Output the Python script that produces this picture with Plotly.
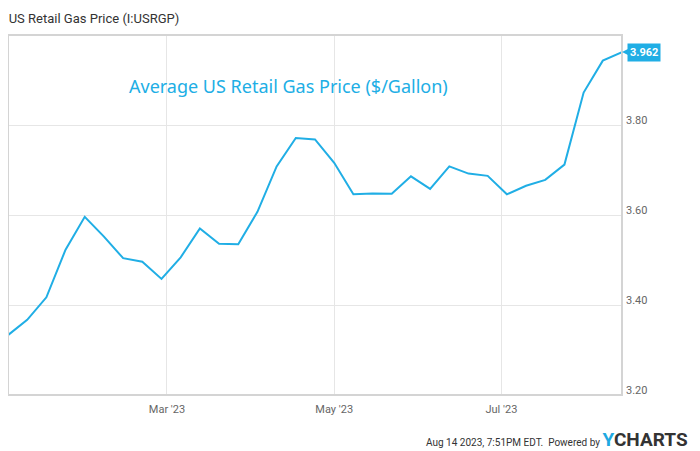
import plotly.graph_objects as go
import pandas as pd

# weekly readings, Jan 2 2023 .. Aug 14 2023 (Mondays)
week_start = "2023-01-02"
n_weeks = 33
prices = [3.333, 3.367, 3.417, 3.523, 3.596, 3.552, 3.504, 3.496, 3.458,
          3.506, 3.570, 3.536, 3.535, 3.607, 3.708, 3.771, 3.768, 3.716,
          3.646, 3.648, 3.647, 3.686, 3.658, 3.708, 3.692, 3.687, 3.646,
          3.665, 3.678, 3.712, 3.872, 3.943, 3.962]
tick_dates = ["2023-03-01", "2023-05-01", "2023-07-01"]
tick_text = ["Mar '23", "May '23", "Jul '23"]
y_ticks = [3.20, 3.40, 3.60, 3.80]

dates = pd.date_range(week_start, periods=n_weeks, freq="7D")

LINE = "#20aee5"
GRID = "#e6e6e6"
BORDER = "#d4d4d4"

# page body has an 8px margin, so the figure is 8px smaller each way
W, H = 692, 443
L, T, R, B = 0, 27, 78, 56
PW, PH = W - L - R, H - T - B

fig = go.Figure()
fig.add_trace(go.Scatter(x=dates, y=prices, mode="lines",
                         line=dict(color=LINE, width=2), hoverinfo="x+y"))

# last value tag: pointer + box
fig.add_annotation(x=dates[-1], y=prices[-1], text="",
                   showarrow=True, arrowhead=2, arrowsize=1, arrowwidth=3,
                   arrowcolor=LINE, ax=9, ay=0, standoff=0)
fig.add_annotation(x=dates[-1], y=prices[-1], text="<b>%.3f</b>" % prices[-1],
                   showarrow=False, xanchor="left", xshift=5,
                   bgcolor=LINE, borderpad=2,
                   font=dict(family="Roboto", size=11, color="white"))

fig.add_annotation(xref="paper", yref="paper", x=(288 - 8) / PW, y=(387 - 64) / PH,
                   text="Average US Retail Gas Price ($/Gallon)", showarrow=False,
                   font=dict(family="Noto Sans", size=18, color=LINE))

fig.add_annotation(xref="paper", yref="paper", x=(682 - L) / PW, y=(387 - 431) / PH,
                   xanchor="right", yanchor="middle", showarrow=False,
                   text="Aug 14 2023, 7:51PM EDT.  Powered by "
                        "<span style='font-size:19px'><b><span style='color:#1fa9e1'>Y</span>"
                        "CHARTS</b></span>",
                   font=dict(family="Roboto", size=10, color="#333333"))

# plot frame
fig.add_shape(type="rect", xref="paper", yref="paper", x0=0, x1=1, y0=0, y1=1,
              line=dict(color=BORDER, width=2))
# outer frame, right side only is within reach
fig.add_shape(type="line", xref="paper", yref="paper",
              x0=(690 - L) / PW, x1=(690 - L) / PW, y0=-B / PH, y1=1 + T / PH,
              line=dict(color="#dddddd", width=1))

fig.update_layout(
    width=W, height=H,
    margin=dict(l=L, r=R, t=T, b=B),
    paper_bgcolor="white", plot_bgcolor="white",
    showlegend=False,
    title=dict(text="US Retail Gas Price (I:USRGP)", xref="container", yref="container",
               x=0.001, y=1 - 10 / H, xanchor="left", yanchor="middle",
               font=dict(family="Roboto", size=13, color="#333333")),
    xaxis=dict(range=["2023-01-02", "2023-08-14"], tickvals=tick_dates, ticktext=tick_text,
               showgrid=True, gridcolor=GRID, gridwidth=1, zeroline=False,
               tickfont=dict(family="Roboto", size=11, color="#666666"), ticks="",
               ticklabelstandoff=6),
    yaxis=dict(range=[3.20, 4.00], side="right", tickvals=y_ticks, tickformat=".2f",
               showgrid=True, gridcolor=GRID, gridwidth=1, zeroline=False,
               tickfont=dict(family="Roboto", size=11, color="#666666"), ticks="",
               ticklabelstandoff=3, ticklabelshift=-5),
)

fig.write_html("out.html")
